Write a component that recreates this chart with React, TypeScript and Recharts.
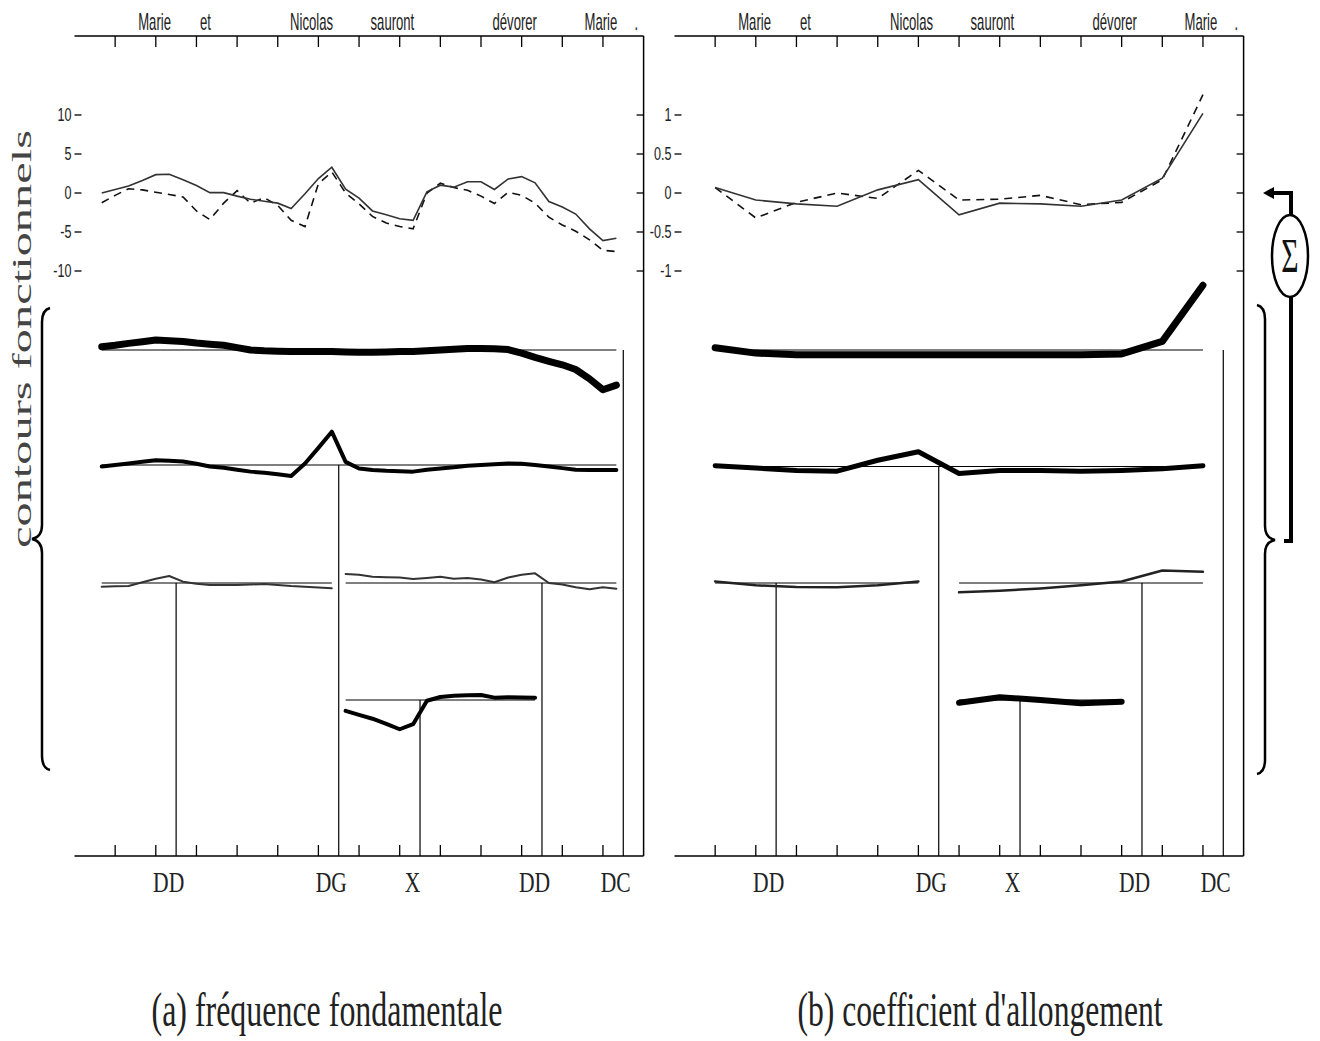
import React from "react";
import { ComposedChart, Line, XAxis, YAxis } from "recharts";

// time axis: one tick per syllable
const syllableTicks = [1, 2, 3, 4, 5, 6, 7, 8, 9, 10, 11, 12, 13];
const words = ["Marie", "et", "Nicolas", "sauront", "dévorer", "Marie", "."];
const wordPos = [1.97, 3.22, 5.83, 7.82, 10.83, 12.95, 13.82];
const functionLabels = ["DD", "DG", "X", "DD", "DC"];
const functionPos = [2.5, 6.5, 8.5, 11.5, 13.5];

// (a) fréquence fondamentale, 3 samples per syllable
const f0Time = [
  0.67, 1, 1.33, 1.67, 2, 2.33, 2.67, 3, 3.33, 3.67, 4, 4.33, 4.67, 5, 5.33, 5.67, 6, 6.33,
  6.67, 7, 7.33, 7.67, 8, 8.33, 8.67, 9, 9.33, 9.67, 10, 10.33, 10.67, 11, 11.33, 11.67, 12,
  12.33, 12.67, 13, 13.33,
];
const f0Solid = [
  0, 0.45, 0.9, 1.6, 2.35, 2.4, 1.7, 0.95, 0.05, 0.05, -0.4, -0.8, -1.05, -1.3, -2.0, -0.1,
  1.85, 3.3, 0.5, -0.65, -2.3, -2.8, -3.3, -3.5, 0.15, 1.0, 0.75, 1.45, 1.45, 0.45, 1.8, 2.1,
  1.3, -1.1, -1.8, -2.7, -4.6, -6.1, -5.8,
];
const f0Dashed = [
  -1.25, -0.3, 0.55, 0.4, 0.1, -0.2, -0.5, -2.3, -3.4, -1.3, 0.3, -1.3, -0.6, -1.6, -3.5, -4.3,
  1.2, 2.7, 0.0, -1.4, -3.0, -3.85, -4.3, -4.6, 0.0, 1.25, 0.7, 0.35, -0.4, -1.35, 0.1, -0.3,
  -1.3, -3.1, -4.1, -4.9, -6.0, -7.35, -7.5,
];
const f0DC = [
  0.42, 0.6, 0.85, 1.05, 1.28, 1.2, 1.1, 0.9, 0.75, 0.6, 0.3, 0, -0.1, -0.15, -0.2, -0.2, -0.2,
  -0.2, -0.25, -0.3, -0.3, -0.25, -0.2, -0.2, -0.1, 0, 0.1, 0.2, 0.2, 0.15, 0.05, -0.4, -0.95,
  -1.45, -1.9, -2.5, -3.7, -5.1, -4.5,
];
const f0DG = [
  -0.2, 0, 0.2, 0.42, 0.62, 0.55, 0.45, 0.15, -0.2, -0.35, -0.6, -0.85, -1, -1.2, -1.4, 0.2,
  2.2, 4.27, 0.4, -0.45, -0.65, -0.75, -0.8, -0.85, -0.6, -0.45, -0.3, -0.1, 0, 0.1, 0.2, 0.15,
  0, -0.2, -0.4, -0.6, -0.64, -0.64, -0.64,
];
const f0DD1 = [
  -0.47, -0.42, -0.38, 0.1, 0.55, 0.9, 0.17, -0.1, -0.26, -0.26, -0.26, -0.2, -0.13, -0.25,
  -0.4, -0.47, -0.58, -0.68,
];
const f0DD2 = [
  1.15, 1.05, 0.8, 0.73, 0.7, 0.5, 0.65, 0.8, 0.55, 0.65, 0.45, 0.1, 0.7, 1.05, 1.24, 0, -0.2,
  -0.55, -0.8, -0.55, -0.73,
];
const f0X = [-1.4, -1.9, -2.4, -3.05, -3.75, -3.1, -0.1, 0.38, 0.55, 0.62, 0.64, 0.3, 0.34, 0.32, 0.3];

// (b) coefficient d'allongement, one value per syllable
const allongTime = syllableTicks;
const allongSolid = [0.07, -0.09, -0.14, -0.17, 0.04, 0.17, -0.28, -0.13, -0.14, -0.17, -0.09, 0.19, 1.02];
const allongDashed = [0.07, -0.32, -0.12, 0.0, -0.07, 0.29, -0.09, -0.08, -0.03, -0.15, -0.12, 0.17, 1.26];
const allongDC = [0.03, -0.04, -0.06, -0.06, -0.06, -0.06, -0.06, -0.06, -0.06, -0.06, -0.05, 0.11, 0.83];
const allongDG = [0.01, -0.02, -0.05, -0.06, 0.08, 0.19, -0.09, -0.05, -0.05, -0.06, -0.05, -0.03, 0.01];
const allongDD1 = [0.02, -0.03, -0.05, -0.055, -0.03, 0.02];
const allongDD2 = [-0.12, -0.1, -0.07, -0.03, 0.02, 0.16, 0.145];
const allongX = [-0.035, 0.035, 0, -0.043, -0.022];

const f0Ticks = [-10, -5, 0, 5, 10];
const allongTicks = [-1, -0.5, 0, 0.5, 1];

// layout
const CHART_W = 660;
const CHART_H = 900;
const MARGIN_LEFT = 24.5;
const Y_AXIS_W = 50;
const PLOT_LEFT = MARGIN_LEFT + Y_AXIS_W;
const PLOT_TOP = 36;
const PLOT_BOTTOM = 856;

const sans = "'Liberation Sans', Arial, sans-serif";
const serif = "'Liberation Serif', 'Times New Roman', serif";

type Seg = { xs: number[]; ys: number[]; anchor: number };
type Row = { base: number; width: number; color: string; segs: Seg[] };

const rowsA: Row[] = [
  { base: 350, width: 7, color: "#000", segs: [{ xs: f0Time, ys: f0DC, anchor: functionPos[4] }] },
  { base: 465, width: 4, color: "#000", segs: [{ xs: f0Time, ys: f0DG, anchor: functionPos[1] }] },
  {
    base: 583,
    width: 2,
    color: "#333",
    segs: [
      { xs: f0Time.slice(0, 18), ys: f0DD1, anchor: functionPos[0] },
      { xs: f0Time.slice(18), ys: f0DD2, anchor: functionPos[3] },
    ],
  },
  { base: 700, width: 4, color: "#000", segs: [{ xs: f0Time.slice(18, 33), ys: f0X, anchor: functionPos[2] }] },
];

const rowsB: Row[] = [
  { base: 350, width: 7, color: "#000", segs: [{ xs: allongTime, ys: allongDC, anchor: functionPos[4] }] },
  { base: 466.5, width: 5, color: "#000", segs: [{ xs: allongTime, ys: allongDG, anchor: functionPos[1] }] },
  {
    base: 583,
    width: 2.5,
    color: "#222",
    segs: [
      { xs: allongTime.slice(0, 6), ys: allongDD1, anchor: functionPos[0] },
      { xs: allongTime.slice(6), ys: allongDD2, anchor: functionPos[3] },
    ],
  },
  { base: 700, width: 6, color: "#000", segs: [{ xs: allongTime.slice(6, 11), ys: allongX, anchor: functionPos[2] }] },
];

const toPts = (xs: number[], ys: number[]) => xs.map((x, i) => ({ x, v: ys[i] }));

function domainFor(base: number, pxPerUnit: number): [number, number] {
  return [-(PLOT_BOTTOM - base) / pxPerUnit, (base - PLOT_TOP) / pxPerUnit];
}

function TopTick(props: any) {
  const { x, y, payload } = props;
  const w = wordPos.indexOf(payload.value);
  if (w >= 0) {
    return (
      <text
        transform={`translate(${x},${y - 6}) scale(0.57,1)`}
        textAnchor="middle"
        fontSize={23}
        fontFamily={sans}
        fill="#222"
      >
        {words[w]}
      </text>
    );
  }
  return <line x1={x} y1={y} x2={x} y2={y + 11} stroke="#000" strokeWidth={1.3} />;
}

function BottomTick(props: any) {
  const { x, y, payload } = props;
  const f = functionPos.indexOf(payload.value);
  if (f >= 0) {
    return (
      <text
        transform={`translate(${x - 7.5},${y + 36}) scale(0.72,1)`}
        textAnchor="middle"
        fontSize={30}
        fontFamily={serif}
        fill="#222"
      >
        {functionLabels[f]}
      </text>
    );
  }
  return <line x1={x} y1={y} x2={x} y2={y - 11} stroke="#000" strokeWidth={1.3} />;
}

// y ticks are drawn against the plot's left edge
function LeftTick(props: any) {
  const { y, payload } = props;
  const x = PLOT_LEFT;
  return (
    <g>
      <line x1={x} y1={y} x2={x + 7} y2={y} stroke="#000" strokeWidth={1.3} />
      <text
        transform={`translate(${x - 3},${y + 6}) scale(0.7,1)`}
        textAnchor="end"
        fontSize={18}
        fontFamily={sans}
        fill="#222"
      >
        {String(payload.value)}
      </text>
    </g>
  );
}

function RightTick(props: any) {
  const { x, y } = props;
  return <line x1={x} y1={y} x2={x - 7} y2={y} stroke="#000" strokeWidth={1.3} />;
}

function Panel({
  pxPerUnit,
  yTicks,
  time,
  solid,
  dashed,
  rows,
}: {
  pxPerUnit: number;
  yTicks: number[];
  time: number[];
  solid: number[];
  dashed: number[];
  rows: Row[];
}) {
  const topDomain = domainFor(193, pxPerUnit);
  const lines: React.ReactElement[] = [];
  rows.forEach((r, i) => {
    const id = `row${i}`;
    const dom = domainFor(r.base, pxPerUnit);
    r.segs.forEach((s, j) => {
      lines.push(
        <Line
          key={`base-${i}-${j}`}
          xAxisId="b"
          yAxisId={id}
          data={[
            { x: s.xs[0], v: 0 },
            { x: s.xs[s.xs.length - 1], v: 0 },
          ]}
          dataKey="v"
          type="linear"
          stroke="#000"
          strokeWidth={1.2}
          dot={false}
          activeDot={false}
          isAnimationActive={false}
        />
      );
      lines.push(
        <Line
          key={`anchor-${i}-${j}`}
          xAxisId="b"
          yAxisId={id}
          data={[
            { x: s.anchor, v: 0 },
            { x: s.anchor, v: dom[0] },
          ]}
          dataKey="v"
          type="linear"
          stroke="#000"
          strokeWidth={1.2}
          dot={false}
          activeDot={false}
          isAnimationActive={false}
        />
      );
      lines.push(
        <Line
          key={`curve-${i}-${j}`}
          xAxisId="b"
          yAxisId={id}
          data={toPts(s.xs, s.ys)}
          dataKey="v"
          type="linear"
          stroke={r.color}
          strokeWidth={r.width}
          strokeLinejoin="round"
          strokeLinecap="round"
          dot={false}
          activeDot={false}
          isAnimationActive={false}
        />
      );
    });
  });

  const topTicks = [...syllableTicks, ...wordPos].sort((a, b) => a - b);
  const bottomTicks = [...syllableTicks, ...functionPos].sort((a, b) => a - b);

  return (
    <ComposedChart width={CHART_W} height={CHART_H} margin={{ top: 0, right: 6.4, bottom: 0, left: MARGIN_LEFT }}>
      <XAxis
        xAxisId="b"
        type="number"
        dataKey="x"
        domain={[0, 14]}
        allowDataOverflow
        ticks={bottomTicks}
        interval={0}
        tickSize={0}
        tickMargin={0}
        tickLine={false}
        axisLine={{ stroke: "#000", strokeWidth: 1.5 }}
        height={44}
        tick={(p: any) => <BottomTick {...p} />}
      />
      <XAxis
        xAxisId="t"
        orientation="top"
        type="number"
        dataKey="x"
        domain={[0, 14]}
        allowDataOverflow
        ticks={topTicks}
        interval={0}
        tickSize={0}
        tickMargin={0}
        tickLine={false}
        axisLine={{ stroke: "#000", strokeWidth: 1.5 }}
        height={36}
        tick={(p: any) => <TopTick {...p} />}
      />
      <YAxis
        yAxisId="top"
        type="number"
        domain={topDomain}
        allowDataOverflow
        ticks={yTicks}
        interval={0}
        width={Y_AXIS_W}
        tickSize={0}
        tickMargin={0}
        tickLine={false}
        axisLine={{ stroke: "#000", strokeWidth: 1.5 }}
        tick={(p: any) => <LeftTick {...p} />}
      />
      <YAxis
        yAxisId="topR"
        orientation="right"
        type="number"
        domain={topDomain}
        allowDataOverflow
        ticks={yTicks}
        interval={0}
        width={10}
        tickSize={0}
        tickMargin={0}
        tickLine={false}
        axisLine={{ stroke: "#000", strokeWidth: 1.5 }}
        tick={(p: any) => <RightTick {...p} />}
      />
      {rows.map((r, i) => (
        <YAxis
          key={`ax-${i}`}
          yAxisId={`row${i}`}
          hide
          type="number"
          domain={domainFor(r.base, pxPerUnit)}
          allowDataOverflow
        />
      ))}
      <Line
        xAxisId="b"
        yAxisId="top"
        data={toPts(time, dashed)}
        dataKey="v"
        type="linear"
        stroke="#111"
        strokeWidth={1.6}
        strokeDasharray="8 6"
        dot={false}
        activeDot={false}
        isAnimationActive={false}
      />
      <Line
        xAxisId="b"
        yAxisId="top"
        data={toPts(time, solid)}
        dataKey="v"
        type="linear"
        stroke="#333"
        strokeWidth={1.6}
        dot={false}
        activeDot={false}
        isAnimationActive={false}
      />
      {lines}
    </ComposedChart>
  );
}

export default function App() {
  return (
    <div style={{ position: "absolute", left: 0, top: 0, width: 1320, height: 1041, background: "#fff" }}>
      <div style={{ position: "absolute", left: 0, top: 0 }}>
        <Panel pxPerUnit={7.8} yTicks={f0Ticks} time={f0Time} solid={f0Solid} dashed={f0Dashed} rows={rowsA} />
      </div>
      <div style={{ position: "absolute", left: 600, top: 0 }}>
        <Panel
          pxPerUnit={78}
          yTicks={allongTicks}
          time={allongTime}
          solid={allongSolid}
          dashed={allongDashed}
          rows={rowsB}
        />
      </div>
      <svg
        width={1320}
        height={1041}
        style={{ position: "absolute", left: 0, top: 0, pointerEvents: "none" }}
      >
        <text
          transform="translate(31,339) rotate(-90)"
          textAnchor="middle"
          fontFamily={serif}
          fontSize={27}
          textLength={418}
          lengthAdjust="spacingAndGlyphs"
          fill="#444"
        >
          contours fonctionnels
        </text>
        <path
          d="M 50 308 Q 42 310 42 322 L 42 525 Q 42 537 32 539 Q 42 541 42 553 L 42 756 Q 42 768 50 770"
          fill="none"
          stroke="#000"
          strokeWidth={2.5}
        />
        <path
          d="M 1257 305 Q 1265 307 1265 319 L 1265 526 Q 1265 538 1275 540 Q 1265 542 1265 554 L 1265 760 Q 1265 772 1257 774"
          fill="none"
          stroke="#000"
          strokeWidth={2.5}
        />
        <path d="M 1291 215 L 1291 193 L 1272 193" fill="none" stroke="#000" strokeWidth={4} />
        <polygon points="1263,193 1274,187 1274,199" fill="#000" />
        <path d="M 1291 297 L 1291 541 L 1284 541" fill="none" stroke="#000" strokeWidth={4} />
        <ellipse cx={1290} cy={256} rx={18} ry={41} fill="#fff" stroke="#000" strokeWidth={2.5} />
        <text
          transform="translate(1290,272) scale(0.62,1)"
          textAnchor="middle"
          fontFamily={serif}
          fontSize={48}
          fill="#111"
        >
          Σ
        </text>
        <text
          x={327}
          y={1026}
          textAnchor="middle"
          fontFamily={serif}
          fontSize={48}
          textLength={351}
          lengthAdjust="spacingAndGlyphs"
          fill="#222"
        >
          (a) fréquence fondamentale
        </text>
        <text
          x={980}
          y={1026}
          textAnchor="middle"
          fontFamily={serif}
          fontSize={48}
          textLength={365}
          lengthAdjust="spacingAndGlyphs"
          fill="#222"
        >
          (b) coefficient d'allongement
        </text>
      </svg>
    </div>
  );
}
